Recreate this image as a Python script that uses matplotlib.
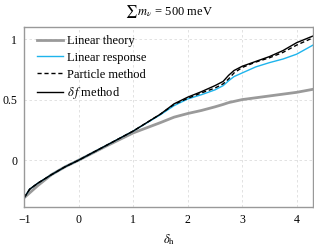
import matplotlib
matplotlib.use("Agg")
import matplotlib.pyplot as plt

plt.rcParams["font.family"] = "Liberation Serif"
plt.rcParams["mathtext.fontset"] = "stix"
plt.rcParams["font.size"] = 8

# data
delta_h = [-1.0, -0.9, -0.75, -0.5, -0.25, 0.0, 0.5, 1.0, 1.5, 1.75, 2.0, 2.25,
           2.5, 2.65, 2.75, 2.85, 3.0, 3.25, 3.5, 3.75, 4.0, 4.3]
linear_theory = [-0.31, -0.27, -0.21, -0.12, -0.055, 0.0, 0.115, 0.225, 0.31,
                 0.355, 0.385, 0.41, 0.44, 0.46, 0.475, 0.485, 0.50, 0.515,
                 0.53, 0.545, 0.56, 0.585]
linear_response = [-0.31, -0.24, -0.19, -0.12, -0.055, 0.0, 0.12, 0.24, 0.375,
                   0.45, 0.505, 0.54, 0.58, 0.615, 0.655, 0.69, 0.72, 0.77,
                   0.805, 0.835, 0.875, 0.95]
particle = [-0.31, -0.24, -0.19, -0.12, -0.055, 0.0, 0.12, 0.24, 0.38, 0.46,
            0.51, 0.555, 0.595, 0.63, 0.67, 0.72, 0.765, 0.81, 0.845, 0.89,
            0.95, 1.01]
delta_f = [-0.31, -0.24, -0.19, -0.12, -0.055, 0.0, 0.12, 0.24, 0.38, 0.465,
           0.52, 0.565, 0.615, 0.65, 0.70, 0.74, 0.775, 0.815, 0.855, 0.905,
           0.97, 1.025]

fig = plt.figure(figsize=(3.14, 2.49), dpi=100)
ax = fig.add_axes([0.077, 0.167, 0.92, 0.725])

ax.plot(delta_h, linear_theory, color="#9a9a9a", lw=2.0, label="Linear theory")
ax.plot(delta_h, linear_response, color="#1eb4ec", lw=1.0, label="Linear response")
ax.plot(delta_h, particle, color="black", lw=1.0, ls=(0, (3, 2)), label="Particle method")
ax.plot(delta_h, delta_f, color="black", lw=1.0, label=r"$\delta\,f$ method")

ax.set_xlim(-1, 4.3)
ax.set_ylim(-0.39, 1.1)
ax.set_xticks([-1, 0, 1, 2, 3, 4])
ax.set_xticklabels(["\u22121", "0", "1", "2", "3", "4"])
ax.set_yticks([0, 0.5, 1])
ax.set_yticklabels(["0", "0.5", "1"])
ax.tick_params(length=0, pad=5, labelsize=8.5)
ax.grid(True, color="#dddddd", ls=(0, (3, 3)), lw=0.6)
for s in ax.spines.values():
    s.set_color("#999999")
    s.set_linewidth(1.0)

ax.set_xlabel(r"$\delta_\mathrm{h}$", labelpad=4, fontsize=9)
fig.text(0.537, 1 - 12 / 249, r"$\sum\, m_\nu$ = 500 meV", ha="center",
         va="center", fontsize=9)

ax.legend(loc="upper left", bbox_to_anchor=(0.045, 0.955), frameon=False,
          handlelength=2.1, handletextpad=0.3, labelspacing=0.38,
          borderaxespad=0, borderpad=0, fontsize=9)

fig.savefig("out.png", dpi=100)
